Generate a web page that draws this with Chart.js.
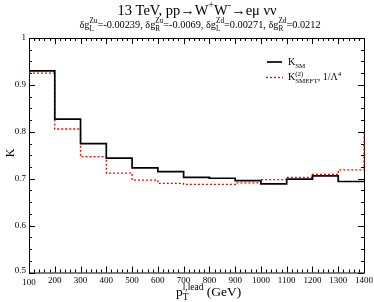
<!DOCTYPE html>
<html>
<head>
<meta charset="utf-8">
<script src="https://cdn.jsdelivr.net/npm/chart.js@4/dist/chart.umd.min.js"></script>
<style>
  html, body { margin: 0; padding: 0; background: #fff; }
  #wrap { width: 374px; height: 302px; }
</style>
</head>
<body>
<div id="wrap"><canvas id="kChart" width="374" height="302"></canvas></div>
<script>
// bin edges in p_T (GeV) and K-factor per bin
const binEdges = [100, 200, 300, 400, 500, 600, 700, 800, 900, 1000, 1100, 1200, 1300, 1400];
const kSM    = [0.930, 0.827, 0.775, 0.744, 0.723, 0.715, 0.703, 0.701, 0.696, 0.689, 0.699, 0.706, 0.694];
const kSMEFT = [0.925, 0.806, 0.747, 0.712, 0.697, 0.690, 0.688, 0.688, 0.691, 0.698, 0.703, 0.709, 0.719];
const kSMEFTNext = 0.797; // next bin past 1400, only its rising edge is visible
const xTicks = [100, 200, 300, 400, 500, 600, 700, 800, 900, 1000, 1100, 1200, 1300, 1400];
const yTicks = [0.5, 0.6, 0.7, 0.8, 0.9, 1];

const serif = '"Liberation Serif", "DejaVu Serif", serif';

// point i at the left edge of bin i; 'before' steps run flat to the next edge
function stepPoints(vals, lastY) {
    const pts = vals.map((v, i) => ({ x: binEdges[i], y: v }));
    pts.push({ x: binEdges[binEdges.length - 1], y: lastY });
    return pts;
}

// text with sub/superscripts; segs = [[text, 'n'|'sub'|'sup'|'both', subText]]
function richText(ctx, segs, x, y, size, measureOnly) {
    const x0 = x;
    ctx.textBaseline = 'alphabetic';
    ctx.textAlign = 'left';
    const small = size * 0.7;
    segs.forEach(s => {
        if (s[1] === 'n') {
            ctx.font = size + 'px ' + serif;
            if (!measureOnly) ctx.fillText(s[0], x, y);
            x += ctx.measureText(s[0]).width;
        } else if (s[1] === 'both') {
            ctx.font = small + 'px ' + serif;
            if (!measureOnly) {
                ctx.fillText(s[0], x, y - size * 0.45);
                ctx.fillText(s[2], x, y + size * 0.28);
            }
            x += Math.max(ctx.measureText(s[0]).width, ctx.measureText(s[2]).width);
        } else {
            ctx.font = small + 'px ' + serif;
            if (!measureOnly) ctx.fillText(s[0], x, s[1] === 'sup' ? y - size * 0.45 : y + size * 0.28);
            x += ctx.measureText(s[0]).width;
        }
    });
    return x - x0;
}

const framePlugin = {
    id: 'frame',
    beforeDatasetsDraw(chart) {
        const ctx = chart.ctx;
        const a = chart.chartArea;
        const xs = chart.scales.x, ys = chart.scales.y;
        ctx.save();
        ctx.strokeStyle = '#000';
        ctx.fillStyle = '#000';
        ctx.lineWidth = 1;
        ctx.strokeRect(a.left + 0.5, a.top + 0.5, a.right - a.left, a.bottom - a.top);

        // inward ticks on all four sides
        ctx.beginPath();
        for (let v = 100; v <= 1400; v += 20) {
            const px = Math.round(xs.getPixelForValue(v)) + 0.5;
            const len = (v % 100 === 0) ? 6 : 3;
            ctx.moveTo(px, a.bottom); ctx.lineTo(px, a.bottom - len);
            ctx.moveTo(px, a.top); ctx.lineTo(px, a.top + len);
        }
        for (let i = 0; i <= 20; i++) {
            const v = 0.5 + i * 0.025;
            const py = Math.round(ys.getPixelForValue(v)) + 0.5;
            const len = (i % 4 === 0) ? 6 : 3;
            ctx.moveTo(a.left, py); ctx.lineTo(a.left + len, py);
            ctx.moveTo(a.right, py); ctx.lineTo(a.right - len, py);
        }
        ctx.stroke();

        // tick labels
        ctx.font = '9px ' + serif;
        ctx.textAlign = 'center';
        ctx.textBaseline = 'top';
        xTicks.forEach(v => ctx.fillText(String(v), xs.getPixelForValue(v), a.bottom + (v === 100 ? 6 : 4)));
        ctx.textAlign = 'right';
        ctx.textBaseline = 'middle';
        yTicks.forEach(v => ctx.fillText(String(v), a.left - 3, ys.getPixelForValue(v) - (v === 0.5 ? 2 : 0)));

        // axis titles
        ctx.save();
        ctx.translate(11, 153);
        ctx.rotate(-Math.PI / 2);
        ctx.font = '12px ' + serif;
        ctx.textAlign = 'center';
        ctx.textBaseline = 'middle';
        ctx.fillText('K', 0, 0);
        ctx.restore();
        richText(ctx, [['p', 'n'], ['l,lead', 'both', 'T'], [' (GeV)', 'n']], 176, 296, 13.5);

        // title and coupling line
        const t1 = [['13 TeV, pp\u2192W', 'n'], ['+', 'sup'], ['W', 'n'], ['-', 'sup'], ['\u2192e\u03bc \u03bd\u03bd', 'n']];
        const w1 = richText(ctx, t1, 0, 0, 14.5, true);
        richText(ctx, t1, 197 - w1 / 2, 15, 14.5);
        const t2 = [
            ['\u03b4g', 'n'], ['Zu', 'both', 'L'], ['=-0.00239, \u03b4g', 'n'], ['Zu', 'both', 'R'],
            ['=-0.0069, \u03b4g', 'n'], ['Zd', 'both', 'L'], ['=0.00271, \u03b4g', 'n'], ['Zd', 'both', 'R'], ['=0.0212', 'n']
        ];
        const w2 = richText(ctx, t2, 0, 0, 10.3, true);
        richText(ctx, t2, 200 - w2 / 2, 28, 10.3);

        // legend
        ctx.lineWidth = 1.7;
        ctx.beginPath(); ctx.moveTo(267, 62); ctx.lineTo(282, 62); ctx.stroke();
        ctx.strokeStyle = '#ff0000';
        ctx.lineWidth = 1.3;
        ctx.setLineDash([2, 2]);
        ctx.beginPath(); ctx.moveTo(266, 77.5); ctx.lineTo(283, 77.5); ctx.stroke();
        ctx.setLineDash([]);
        richText(ctx, [['K', 'n'], ['SM', 'sub']], 288, 65, 10);
        richText(ctx, [['K', 'n'], ['(2)', 'both', 'SMEFT'], [', 1/\u039b', 'n'], ['4', 'sup']], 288, 80, 10);
        ctx.restore();
    }
};

const ctx = document.getElementById('kChart').getContext('2d');
const kChart = new Chart(ctx, {
    type: 'line',
    data: {
        datasets: [{
            label: 'K SM',
            data: stepPoints(kSM, kSM[kSM.length - 1]),
            stepped: 'before',
            borderColor: '#000000',
            borderWidth: 1.7,
            pointRadius: 0,
            fill: false
        }, {
            label: 'K SMEFT',
            data: stepPoints(kSMEFT, kSMEFTNext),
            stepped: 'before',
            borderColor: '#ff0000',
            borderWidth: 1.3,
            borderDash: [2, 2],
            pointRadius: 0,
            fill: false,
            clip: 2
        }]
    },
    options: {
        responsive: false,
        animation: false,
        layout: { padding: { left: 29, top: 38, right: 10, bottom: 29.5 } },
        plugins: {
            legend: { display: false },
            tooltip: { enabled: false }
        },
        scales: {
            x: { type: 'linear', min: 100, max: 1400, display: false },
            y: { type: 'linear', min: 0.5, max: 1, display: false }
        }
    },
    plugins: [framePlugin]
});
</script>
</body>
</html>
